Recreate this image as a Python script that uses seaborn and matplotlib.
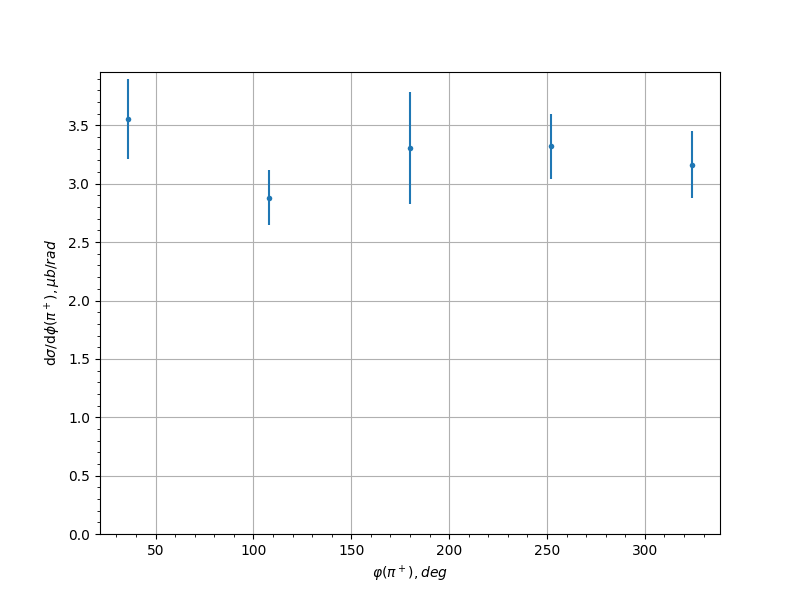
import numpy as np
import matplotlib
matplotlib.use('Agg')
import matplotlib.pyplot as plt
import seaborn as sns

# phi bins (deg), cross section and its error
phi = [36, 108, 180, 252, 324]
xsec = [3.555, 2.88, 3.305, 3.32, 3.165]
xsec_err = [0.34, 0.235, 0.48, 0.28, 0.285]

fig, ax = plt.subplots(figsize=(8, 6), dpi=100)

# error bars first, then the points on top
ax.errorbar(phi, xsec, yerr=xsec_err, fmt='none', ecolor='#1f77b4', elinewidth=1.5)
sns.scatterplot(x=phi, y=xsec, ax=ax, color='#1f77b4', s=16, linewidth=0, zorder=3)

ax.set_ylim(bottom=0)
ax.minorticks_on()
ax.grid(True, which='major')
ax.set_axisbelow(True)

ax.set_xlabel(r'$\varphi(\pi^+), deg$')
ax.set_ylabel(r'd$\sigma$/d$\phi(\pi^+), \mu b/rad$')

fig.savefig('out.png', dpi=100)
